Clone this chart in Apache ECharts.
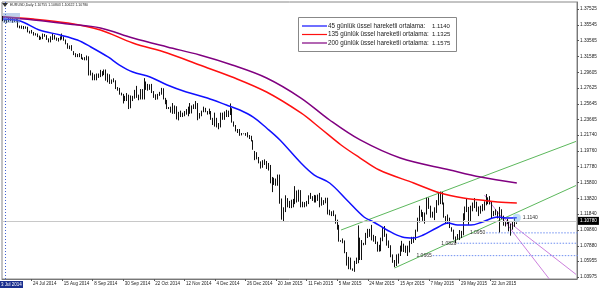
<!DOCTYPE html>
<html><head><meta charset="utf-8">
<script src="https://cdn.jsdelivr.net/npm/echarts@6/dist/echarts.min.js"></script>
<style>html,body{margin:0;padding:0;background:#fff}#c{width:600px;height:289px}</style>
</head><body><div id="c"></div>
<script>
// ---------- data ----------
const headerText = 'EURUSD,Daily 1.10755 1.10803 1.10622 1.10780';
const cornerTimeLabel = '3 Jul 2014';
const slotCount = 301;
const xTickLabels = ['24 Jul 2014','15 Aug 2014','8 Sep 2014','30 Sep 2014','22 Oct 2014','12 Nov 2014','4 Dec 2014','26 Dec 2014','20 Jan 2015','11 Feb 2015','5 Mar 2015','24 Mar 2015','15 Apr 2015','7 May 2015','29 May 2015','22 Jun 2015'];
const yTicks = [1.37525,1.35545,1.33565,1.31585,1.29605,1.27625,1.25645,1.23665,1.21740,1.19760,1.17780,1.15800,1.13820,1.11840,1.09860,1.07880,1.05955,1.03975];
const yMin = 1.03724, yMax = 1.38401;
const lastPrice = 1.10780;
// [open, close, low, high]
const ohlc = [
[1.3655,1.3610,1.3600,1.3665],[1.3610,1.3595,1.3585,1.3618],
[1.3595,1.3605,1.3575,1.3625],[1.3605,1.3615,1.3590,1.3640],[1.3615,1.3640,1.3600,1.3650],[1.3640,1.3610,1.3580,1.3650],[1.3610,1.3605,1.3590,1.3625],
[1.3605,1.3615,1.3595,1.3630],[1.3615,1.3530,1.3520,1.3625],[1.3530,1.3525,1.3510,1.3545],[1.3525,1.3525,1.3505,1.3545],[1.3525,1.3525,1.3500,1.3540],
[1.3525,1.3522,1.3505,1.3535],[1.3522,1.3465,1.3460,1.3530],[1.3465,1.3465,1.3445,1.3480],[1.3465,1.3460,1.3445,1.3490],[1.3460,1.3430,1.3420,1.3465],
[1.3430,1.3440,1.3420,1.3450],[1.3440,1.3410,1.3400,1.3445],[1.3410,1.3395,1.3365,1.3420],[1.3395,1.3390,1.3370,1.3405],[1.3390,1.3425,1.3375,1.3445],
[1.3425,1.3415,1.3405,1.3440],[1.3415,1.3375,1.3365,1.3425],[1.3375,1.3360,1.3335,1.3385],[1.3360,1.3375,1.3335,1.3410],[1.3375,1.3410,1.3365,1.3445],
[1.3410,1.3380,1.3370,1.3425],[1.3380,1.3365,1.3355,1.3395],[1.3365,1.3365,1.3345,1.3390],[1.3365,1.3400,1.3360,1.3410],[1.3400,1.3400,1.3370,1.3445],
[1.3400,1.3365,1.3355,1.3410],[1.3365,1.3320,1.3310,1.3370],[1.3320,1.3265,1.3255,1.3325],[1.3265,1.3280,1.3250,1.3295],[1.3280,1.3240,1.3230,1.3300],
[1.3220,1.3190,1.3175,1.3225],[1.3190,1.3165,1.3150,1.3200],[1.3165,1.3170,1.3150,1.3190],[1.3170,1.3180,1.3150,1.3200],[1.3180,1.3130,1.3125,1.3190],
[1.3130,1.3130,1.3115,1.3145],[1.3130,1.3130,1.3110,1.3150],[1.3130,1.3150,1.3110,1.3170],[1.3150,1.2945,1.2920,1.3160],[1.2945,1.2950,1.2920,1.2985],
[1.2950,1.2890,1.2860,1.2955],[1.2890,1.2860,1.2860,1.2935],[1.2860,1.2920,1.2860,1.2945],[1.2920,1.2920,1.2890,1.2945],[1.2920,1.2960,1.2900,1.2990],
[1.2960,1.2950,1.2910,1.2975],[1.2950,1.2960,1.2925,1.2995],[1.2960,1.2860,1.2855,1.2995],[1.2860,1.2920,1.2835,1.2945],[1.2920,1.2830,1.2815,1.2935],
[1.2830,1.2850,1.2815,1.2870],[1.2850,1.2850,1.2835,1.2885],[1.2850,1.2760,1.2750,1.2860],[1.2760,1.2750,1.2730,1.2775],[1.2750,1.2685,1.2680,1.2765],
[1.2685,1.2685,1.2670,1.2705],[1.2685,1.2630,1.2570,1.2690],[1.2630,1.2620,1.2600,1.2665],[1.2620,1.2670,1.2600,1.2700],[1.2670,1.2520,1.2500,1.2680],
[1.2520,1.2650,1.2510,1.2670],[1.2650,1.2650,1.2600,1.2665],[1.2650,1.2730,1.2630,1.2740],[1.2730,1.2650,1.2640,1.2790],[1.2650,1.2630,1.2610,1.2680],
[1.2630,1.2740,1.2620,1.2750],[1.2740,1.2650,1.2620,1.2750],[1.2650,1.2820,1.2620,1.2887],[1.2820,1.2810,1.2740,1.2845],[1.2810,1.2760,1.2730,1.2815],
[1.2760,1.2800,1.2740,1.2810],[1.2800,1.2720,1.2700,1.2815],[1.2720,1.2650,1.2640,1.2725],[1.2650,1.2650,1.2615,1.2685],[1.2650,1.2670,1.2620,1.2690],
[1.2670,1.2700,1.2665,1.2715],[1.2700,1.2730,1.2680,1.2765],[1.2730,1.2630,1.2620,1.2760],[1.2630,1.2610,1.2560,1.2640],[1.2610,1.2525,1.2500,1.2615],
[1.2515,1.2510,1.2500,1.2525],
[1.2510,1.2480,1.2455,1.2530],[1.2480,1.2540,1.2440,1.2575],[1.2540,1.2480,1.2440,1.2545],[1.2480,1.2380,1.2370,1.2535],[1.2380,1.2450,1.2358,1.2465],
[1.2450,1.2410,1.2400,1.2480],[1.2410,1.2420,1.2400,1.2455],[1.2420,1.2440,1.2410,1.2475],[1.2440,1.2475,1.2430,1.2500],[1.2475,1.2525,1.2410,1.2530],
[1.2525,1.2450,1.2440,1.2575],[1.2450,1.2525,1.2445,1.2545],[1.2525,1.2540,1.2500,1.2560],[1.2540,1.2545,1.2500,1.2600],[1.2545,1.2390,1.2360,1.2575],
[1.2390,1.2440,1.2380,1.2450],[1.2440,1.2470,1.2410,1.2480],[1.2470,1.2505,1.2460,1.2530],[1.2505,1.2470,1.2460,1.2515],[1.2470,1.2450,1.2430,1.2475],
[1.2450,1.2470,1.2435,1.2505],[1.2470,1.2380,1.2365,1.2475],[1.2380,1.2310,1.2300,1.2390],[1.2310,1.2380,1.2280,1.2455],[1.2380,1.2290,1.2270,1.2390],
[1.2290,1.2310,1.2247,1.2325],[1.2310,1.2380,1.2270,1.2455],[1.2380,1.2440,1.2365,1.2455],[1.2440,1.2450,1.2365,1.2470],[1.2450,1.2460,1.2400,1.2490],
[1.2460,1.2440,1.2400,1.2480],[1.2440,1.2500,1.2425,1.2570],[1.2500,1.2340,1.2330,1.2510],[1.2340,1.2290,1.2280,1.2345],[1.2290,1.2225,1.2220,1.2300],
[1.2225,1.2225,1.2200,1.2250],[1.2225,1.2180,1.2165,1.2250],[1.2180,1.2190,1.2170,1.2200],[1.2190,1.2190,1.2185,1.2195],[1.2190,1.2185,1.2165,1.2200],
[1.2185,1.2150,1.2145,1.2210],[1.2150,1.2155,1.2125,1.2175],[1.2155,1.2100,1.2095,1.2165],[1.2100,1.2000,1.1990,1.2110],
[1.1950,1.1935,1.1860,1.1975],[1.1935,1.1890,1.1870,1.1960],[1.1890,1.1840,1.1820,1.1900],[1.1840,1.1790,1.1755,1.1845],[1.1790,1.1845,1.1765,1.1860],
[1.1845,1.1840,1.1800,1.1870],[1.1840,1.1770,1.1750,1.1850],[1.1770,1.1780,1.1730,1.1825],[1.1780,1.1630,1.1570,1.1800],[1.1630,1.1565,1.1460,1.1650],
[1.1565,1.1620,1.1550,1.1640],[1.1620,1.1550,1.1540,1.1630],[1.1550,1.1610,1.1540,1.1680],[1.1610,1.1365,1.1315,1.1680],[1.1365,1.1205,1.1115,1.1380],
[1.1205,1.1245,1.1098,1.1270],[1.1245,1.1380,1.1210,1.1420],[1.1380,1.1290,1.1270,1.1385],[1.1290,1.1320,1.1260,1.1350],[1.1320,1.1290,1.1260,1.1365],
[1.1290,1.1340,1.1270,1.1375],[1.1340,1.1480,1.1310,1.1535],[1.1480,1.1345,1.1330,1.1480],[1.1345,1.1475,1.1340,1.1490],[1.1475,1.1315,1.1270,1.1485],
[1.1315,1.1320,1.1270,1.1340],[1.1320,1.1310,1.1270,1.1335],[1.1310,1.1330,1.1280,1.1350],[1.1330,1.1400,1.1310,1.1420],[1.1400,1.1390,1.1375,1.1450],
[1.1390,1.1370,1.1350,1.1410],[1.1370,1.1410,1.1330,1.1425],[1.1410,1.1400,1.1330,1.1420],[1.1400,1.1375,1.1350,1.1430],[1.1375,1.1380,1.1270,1.1450],
[1.1380,1.1330,1.1290,1.1395],[1.1330,1.1330,1.1300,1.1360],[1.1330,1.1360,1.1320,1.1390],[1.1360,1.1200,1.1180,1.1390],[1.1200,1.1195,1.1170,1.1240],
[1.1195,1.1185,1.1160,1.1220],[1.1185,1.1175,1.1160,1.1230],[1.1175,1.1075,1.1065,1.1180],[1.1075,1.1030,1.0990,1.1115],[1.1030,1.0845,1.0840,1.1050],
[1.0845,1.0850,1.0838,1.0858],
[1.0850,1.0850,1.0820,1.0880],[1.0850,1.0700,1.0695,1.0855],[1.0700,1.0550,1.0540,1.0710],[1.0550,1.0630,1.0495,1.0650],[1.0630,1.0500,1.0490,1.0640],
[1.0495,1.0490,1.0475,1.0505],
[1.0490,1.0565,1.0462,1.0600],[1.0565,1.0590,1.0560,1.0640],[1.0590,1.0880,1.0570,1.1043],[1.0880,1.0660,1.0610,1.0890],[1.0660,1.0820,1.0610,1.0860],
[1.0810,1.0805,1.0795,1.0825],
[1.0805,1.0940,1.0800,1.0950],[1.0940,1.0930,1.0885,1.1000],[1.0930,1.0965,1.0900,1.1000],[1.0965,1.0885,1.0855,1.1050],[1.0885,1.0890,1.0840,1.0925],
[1.0890,1.0830,1.0810,1.0910],[1.0830,1.0730,1.0715,1.0840],[1.0730,1.0760,1.0715,1.0800],[1.0760,1.0880,1.0720,1.0890],[1.0880,1.0975,1.0845,1.1010],
[1.0975,1.0925,1.0900,1.1035],[1.0925,1.0805,1.0790,1.0940],[1.0805,1.0785,1.0760,1.0855],[1.0785,1.0660,1.0645,1.0795],[1.0660,1.0600,1.0575,1.0680],
[1.0600,1.0570,1.0520,1.0610],[1.0570,1.0660,1.0535,1.0680],[1.0660,1.0685,1.0565,1.0690],[1.0685,1.0765,1.0660,1.0790],[1.0765,1.0805,1.0715,1.0850],
[1.0805,1.0740,1.0710,1.0815],[1.0740,1.0730,1.0700,1.0790],[1.0730,1.0720,1.0660,1.0790],[1.0720,1.0820,1.0705,1.0850],[1.0820,1.0870,1.0810,1.0900],
[1.0870,1.0880,1.0825,1.0900],[1.0880,1.0970,1.0860,1.0990],[1.0970,1.1130,1.0965,1.1140],[1.1130,1.1220,1.1080,1.1290],[1.1220,1.1200,1.1150,1.1240],
[1.1200,1.1140,1.1100,1.1210],[1.1140,1.1185,1.1065,1.1205],[1.1185,1.1345,1.1180,1.1390],[1.1345,1.1265,1.1250,1.1390],[1.1265,1.1200,1.1140,1.1290],
[1.1200,1.1155,1.1140,1.1215],[1.1155,1.1210,1.1110,1.1270],[1.1210,1.1345,1.1200,1.1360],[1.1345,1.1410,1.1295,1.1445],[1.1410,1.1450,1.1310,1.1467],
[1.1450,1.1315,1.1305,1.1460],[1.1315,1.1150,1.1140,1.1330],[1.1150,1.1090,1.1060,1.1160],[1.1090,1.1105,1.1060,1.1180],[1.1105,1.1015,1.1010,1.1140],
[1.1015,1.0980,1.0965,1.1020],[1.0980,1.0875,1.0865,1.0990],[1.0875,1.0900,1.0819,1.0905],[1.0900,1.0905,1.0865,1.0935],[1.0905,1.0955,1.0860,1.0985],
[1.0955,1.0930,1.0885,1.0975],[1.0930,1.1150,1.0920,1.1195],[1.1150,1.1245,1.1110,1.1280],[1.1245,1.1240,1.1210,1.1380],[1.1240,1.1110,1.1050,1.1275],
[1.1110,1.1285,1.1095,1.1290],[1.1285,1.1290,1.1220,1.1330],[1.1290,1.1310,1.1260,1.1385],[1.1310,1.1255,1.1215,1.1340],[1.1255,1.1265,1.1160,1.1280],
[1.1265,1.1280,1.1190,1.1290],[1.1280,1.1240,1.1220,1.1310],[1.1240,1.1330,1.1230,1.1345],[1.1330,1.1365,1.1295,1.1436],[1.1365,1.1350,1.1310,1.1395],
[1.1350,1.1330,1.1305,1.1410],[1.1330,1.1170,1.1135,1.1340],[1.1170,1.1200,1.1160,1.1225],[1.1200,1.1200,1.1170,1.1245],[1.1200,1.1165,1.1130,1.1220],
[1.0990,1.1235,1.0955,1.1275],[1.1235,1.1145,1.1125,1.1245],[1.1145,1.1055,1.1040,1.1165],[1.1055,1.1090,1.1030,1.1095],[1.1090,1.1110,1.1060,1.1125],
[1.1000,1.1055,1.0969,1.1100],[1.1055,1.1010,1.0915,1.1065],[1.1010,1.1080,1.0990,1.1090],[1.1080,1.1040,1.1025,1.1140],[1.10755,1.10780,1.10622,1.10803]
];
// moving averages: [bar index, value]
const ema45 = [[0,1.3627],[9,1.3602],[19,1.3490],[30,1.3427],[39,1.3364],[46,1.3277],[54.5,1.3152],[61.3,1.3051],[68.1,1.2964],[77,1.2901],[85.9,1.2801],[96.4,1.2713],[106.9,1.2638],[117.3,1.2551],[124.1,1.2488],[130.9,1.2400],[138.2,1.2263],[145,1.2113],[155.5,1.1825],[163.4,1.1674],[171.2,1.1574],[180.1,1.1362],[188.5,1.1149],[193.7,1.1086],[201.1,1.0986],[209.4,1.0898],[214.7,1.0886],[219.9,1.0923],[227.2,1.1011],[232.5,1.1073],[237.7,1.1048],[244.5,1.1048],[251.3,1.1086],[258.7,1.1149],[263.9,1.1136],[269,1.1140]];
const ema135 = [[0,1.3652],[15.7,1.3627],[33.5,1.3577],[50.8,1.3490],[68.1,1.3327],[85.9,1.3202],[103.2,1.3051],[120.4,1.2901],[138.2,1.2713],[155.5,1.2451],[166,1.2263],[176.5,1.2050],[186.9,1.1887],[197.4,1.1737],[214.7,1.1574],[228.8,1.1449],[240.9,1.1386],[249.8,1.1361],[258.7,1.1336],[269,1.1325]];
const ema200 = [[0,1.3652],[15.7,1.3615],[33.5,1.3565],[50.8,1.3515],[68.1,1.3389],[85.9,1.3277],[103.2,1.3177],[120.4,1.3052],[138.2,1.2889],[155.5,1.2638],[171.2,1.2363],[186.9,1.2113],[207.9,1.1887],[234,1.1737],[249.8,1.1649],[269,1.1575]];
const legendNames = ['45 günlük üssel hareketli ortalama:','135 günlük üssel hareketli ortalama:','200 günlük üssel hareketli ortalama:'];
const legendValues = ['1.1140','1.1325','1.1575'];
const emaEndLabel = '1.1140';
const greenLines = [[[176.5,1.0986],[300,1.2095]],[[205.3,1.0510],[300,1.1543]]];
const violetLines = [[[252.4,1.1424],[285.9,1.0372]],[[260.2,1.1174],[300,1.0430]]];
const levels = [[253.4,1.0950,'1.0950'],[237.7,1.0820,'1.0820'],[224.6,1.0665,'1.0665']];

// ---------- chart ----------
const cats = Array.from({length: slotCount}, (_, i) => String(i));
const FONT = 'Liberation Sans';
const tickShown = i => i >= 15 && (i - 15) % 16 === 0 && (i - 15) / 16 < xTickLabels.length;
const emaColors = ['#1010ff', '#ff1010', '#800080'];

const series = [];
series.push({
  type: 'candlestick', data: ohlc, barWidth: 1.3, z: 3,
  itemStyle: {color: '#ffffff', color0: '#000000', borderColor: '#111111', borderColor0: '#111111', borderWidth: 1},
  markLine: {
    silent: true, symbol: 'none', animation: false,
    data: [{yAxis: lastPrice}],
    lineStyle: {color: '#c8c8c8', width: 1, type: 'solid'},
    label: {position: 'end', formatter: lastPrice.toFixed(5), backgroundColor: '#000', color: '#fff',
      fontFamily: FONT, fontSize: 4.7, padding: [1.5, 2], distance: 1}
  }
});
[ema45, ema135, ema200].forEach((d, k) => {
  const s = {type: 'line', data: d, smooth: 0.35, symbol: 'none', z: 4,
    lineStyle: {color: emaColors[k], width: 1.5}};
  if (k === 0) s.endLabel = {show: true, formatter: emaEndLabel, color: '#333', fontFamily: FONT, fontSize: 5, distance: 6};
  series.push(s);
});
series.push({type: 'scatter', data: [ema45[ema45.length - 1]], symbolSize: 8, z: 5,
  itemStyle: {color: 'rgba(110,180,240,0.55)'}});
greenLines.forEach(d => series.push({type: 'line', data: d, symbol: 'none', z: 2,
  lineStyle: {color: '#5cb85c', width: 1}}));
violetLines.forEach(d => series.push({type: 'line', data: d, symbol: 'none', z: 2,
  lineStyle: {color: '#cc80dd', width: 1}}));
levels.forEach(([i0, v, t]) => series.push({type: 'line', z: 2, symbol: 'circle', symbolSize: 0.1, showSymbol: true,
  data: [{value: [i0, v], label: {show: true, position: 'left', formatter: t, distance: 1, color: '#333', fontFamily: FONT, fontSize: 5}}, [300.5, v]],
  lineStyle: {color: '#6f8ff0', width: 1, type: [1.5, 1.5]}}));
// vertical dotted separator
series.push({type: 'line', data: [], markLine: {silent: true, symbol: 'none', animation: false,
  data: [{xAxis: 0.6}], label: {show: false}, lineStyle: {color: '#4060d0', width: 1, type: [1, 2]}}});

const legendGraphic = [];
const lx = 298, ly = 17;
legendGraphic.push({type: 'rect', shape: {x: lx + 0.5, y: ly + 0.5, width: 158, height: 34}, style: {fill: '#fff', stroke: '#888', lineWidth: 1}, z: 10});
legendNames.forEach((n, k) => {
  const yy = ly + 9 + k * 8.5;
  legendGraphic.push({type: 'line', shape: {x1: lx + 4, y1: yy, x2: lx + 29, y2: yy}, style: {stroke: emaColors[k], lineWidth: 1.2}, z: 11});
  legendGraphic.push({type: 'text', x: lx + 30, y: yy, style: {text: n, fill: '#222', font: '6.3px "' + FONT + '"', verticalAlign: 'middle'}, z: 11});
  legendGraphic.push({type: 'text', x: lx + 134, y: yy, style: {text: legendValues[k], fill: '#222', font: '6px "' + FONT + '"', verticalAlign: 'middle'}, z: 11});
});

const chart = echarts.init(document.getElementById('c'), null, {renderer: 'canvas'});
chart.setOption({
  animation: false,
  backgroundColor: '#fff',
  grid: {left: 2, right: 23, top: 2, bottom: 10, show: true, borderColor: '#888', borderWidth: 1},
  xAxis: {
    type: 'category', data: cats, boundaryGap: true,
    axisLine: {show: true, lineStyle: {color: '#777'}},
    axisTick: {show: true, interval: i => tickShown(i), alignWithLabel: true, length: 2, lineStyle: {color: '#555'}},
    axisLabel: {show: true, interval: i => tickShown(i), formatter: (v, i) => xTickLabels[(i - 15) / 16] || '',
      align: 'left', margin: 2, padding: [0, 0, 0, 1.5], color: '#222', fontFamily: FONT, fontSize: 4.5},
    splitLine: {show: false}
  },
  yAxis: {
    type: 'value', position: 'right', min: yMin, max: yMax, scale: true,
    axisLine: {show: true, lineStyle: {color: '#777'}},
    axisTick: {show: true, customValues: yTicks, length: 2, lineStyle: {color: '#555'}},
    axisLabel: {show: true, customValues: yTicks, formatter: v => v.toFixed(5), margin: 3, color: '#222', fontFamily: FONT, fontSize: 4.7},
    splitLine: {show: false}
  },
  series: series,
  graphic: [
    {type: 'rect', shape: {x: 3, y: 13, width: 17, height: 10}, style: {fill: 'rgba(110,150,210,0.45)'}, z: 10},
    {type: 'polygon', shape: {points: [[2, 3], [8, 3], [5, 7]]}, style: {fill: '#333'}, z: 10},
    {type: 'text', x: 10, y: 5.5, style: {text: headerText, fill: '#222', font: '3.5px "' + FONT + '"', verticalAlign: 'middle'}, z: 10},
    {type: 'rect', shape: {x: 0, y: 281, width: 23, height: 7}, style: {fill: '#1a2f8f'}, z: 10},
    {type: 'text', x: 1, y: 284.5, style: {text: cornerTimeLabel, fill: '#fff', font: '4.5px "' + FONT + '"', verticalAlign: 'middle'}, z: 11}
  ].concat(legendGraphic)
});
</script></body></html>
